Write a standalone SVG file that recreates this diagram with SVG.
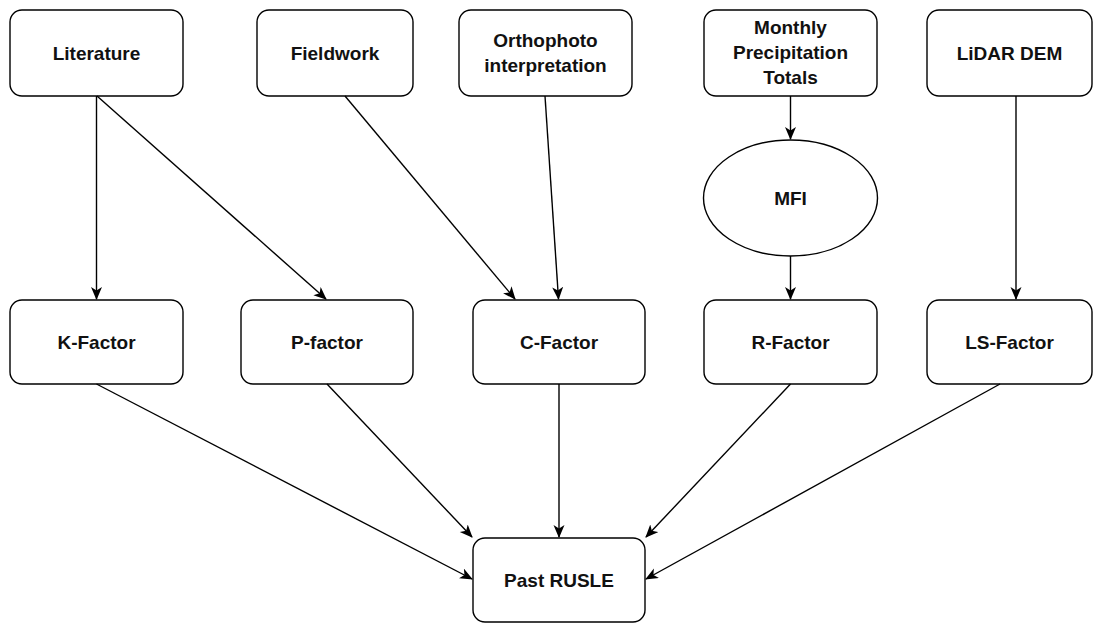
<svg xmlns="http://www.w3.org/2000/svg" width="1102" height="626" viewBox="0 0 1102 626">
<style>
.n{fill:#fff;stroke:#000;stroke-width:1.4}
.t{font-family:"Liberation Sans",Arial,sans-serif;font-weight:bold;font-size:19px;fill:#111;text-anchor:middle;dominant-baseline:central}
.e{fill:none;stroke:#000;stroke-width:1.4}
</style>
<defs>
<marker id="a" markerUnits="userSpaceOnUse" markerWidth="14" markerHeight="12" refX="12" refY="5.5" orient="auto">
<path d="M0,0 L13,5.5 L0,11 L3.5,5.5 Z" fill="#000"/>
</marker>
</defs>
<rect width="1102" height="626" fill="#fff"/>
<g id="literature"><rect class="n" x="10" y="10" width="173" height="86" rx="12"/><text class="t" x="96.5" y="53">Literature</text></g>
<g id="fieldwork"><rect class="n" x="257" y="10" width="156" height="86" rx="12"/><text class="t" x="335" y="53">Fieldwork</text></g>
<g id="orthophoto"><rect class="n" x="459" y="10" width="173" height="86" rx="12"/><text class="t" x="545.5" y="40">Orthophoto</text><text class="t" x="545.5" y="65">interpretation</text></g>
<g id="monthly"><rect class="n" x="704" y="10" width="173" height="86" rx="12"/><text class="t" x="790.5" y="27">Monthly</text><text class="t" x="790.5" y="52">Precipitation</text><text class="t" x="790.5" y="77">Totals</text></g>
<g id="lidar"><rect class="n" x="927" y="10" width="165" height="86" rx="12"/><text class="t" x="1009.5" y="53">LiDAR DEM</text></g>
<g id="mfi"><ellipse class="n" cx="790.5" cy="198" rx="87" ry="58"/><text class="t" x="790.5" y="198">MFI</text></g>
<g id="kfactor"><rect class="n" x="10" y="300" width="173" height="84" rx="12"/><text class="t" x="96.5" y="342">K-Factor</text></g>
<g id="pfactor"><rect class="n" x="241" y="300" width="172" height="84" rx="12"/><text class="t" x="327" y="342">P-factor</text></g>
<g id="cfactor"><rect class="n" x="473" y="300" width="172" height="84" rx="12"/><text class="t" x="559" y="342">C-Factor</text></g>
<g id="rfactor"><rect class="n" x="704" y="300" width="173" height="84" rx="12"/><text class="t" x="790.5" y="342">R-Factor</text></g>
<g id="lsfactor"><rect class="n" x="927" y="300" width="165" height="84" rx="12"/><text class="t" x="1009.5" y="342">LS-Factor</text></g>
<g id="pastrusle"><rect class="n" x="473" y="538" width="172" height="84" rx="12"/><text class="t" x="559" y="580">Past RUSLE</text></g>
<g id="connectors">
<path class="e" marker-end="url(#a)" d="M96.5,96 L96.5,299"/>
<path class="e" marker-end="url(#a)" d="M97,96 L326,299"/>
<path class="e" marker-end="url(#a)" d="M345,96 L515,299"/>
<path class="e" marker-end="url(#a)" d="M545,96 L558.5,299"/>
<path class="e" marker-end="url(#a)" d="M790.5,96 L790.5,139"/>
<path class="e" marker-end="url(#a)" d="M790.5,256 L790.5,299"/>
<path class="e" marker-end="url(#a)" d="M1016,96 L1016,299"/>
<path class="e" marker-end="url(#a)" d="M96.5,384 L472,579"/>
<path class="e" marker-end="url(#a)" d="M327,384 L472,537"/>
<path class="e" marker-end="url(#a)" d="M559,384 L559,537"/>
<path class="e" marker-end="url(#a)" d="M790.5,384 L646,537"/>
<path class="e" marker-end="url(#a)" d="M1000,384 L646,579"/>
</g>
</svg>
